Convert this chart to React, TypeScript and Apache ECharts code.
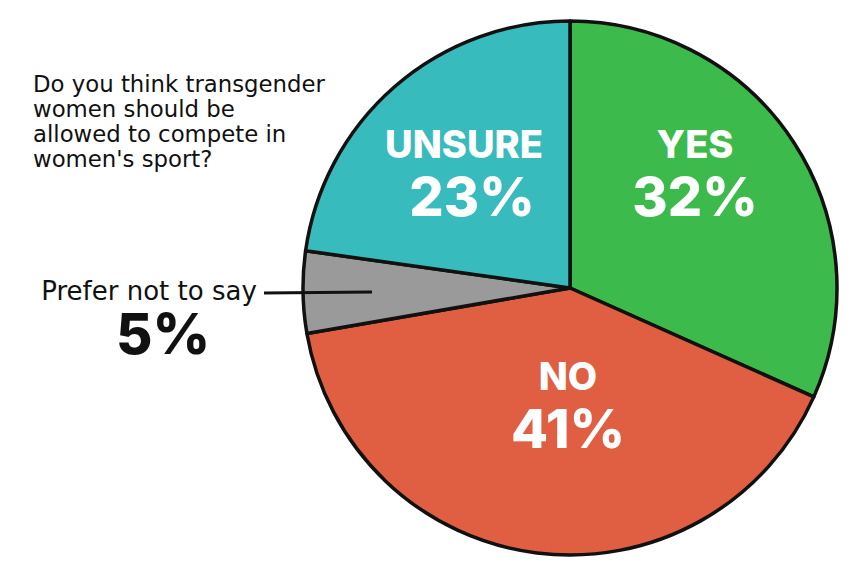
import React, { useEffect, useRef } from "react";
import * as echarts from "echarts";

const categories = ["YES", "NO", "Prefer not to say", "UNSURE"];
const values = [32, 41, 5, 23];
const colors = ["#3cba4b", "#e05f43", "#9a9a9a", "#37bbbd"];
const titleLines = ["Do you think transgender", "women should be", "allowed to compete in", "women's sport?"];

export default function App() {
  const ref = useRef<HTMLDivElement>(null);
  useEffect(() => {
    const chart = echarts.init(ref.current!, null, { renderer: "svg" });
    const font = "Inter, 'Open Sans', sans-serif";
    const font2 = "'DejaVu Sans', sans-serif";
    const labelPos: Record<number, [number, number]> = {
      0: [687, 164],
      1: [560, 396],
      2: [141, 311],
      3: [456, 164],
    };
    chart.setOption({
      animation: false,
      backgroundColor: "#ffffff",
      series: [
        {
          type: "pie",
          center: [562, 280],
          radius: 267,
          startAngle: 90,
          clockwise: true,
          avoidLabelOverlap: false,
          labelLine: { show: false },
          itemStyle: { borderColor: "#111", borderWidth: 3.5, borderJoin: "round" },
          label: {
            show: true,
            position: "inside",
            fontFamily: font,
            align: "center",
            verticalAlign: "middle",
            formatter: (p: any) =>
              p.dataIndex === 2
                ? `{small|${p.name}}\n{big|${p.value}%}`
                : p.dataIndex === 3
                ? `{name|${p.name}}\n{pct2|${p.value}%}`
                : `{name|${p.name}}\n{pct|${p.value}%}`,
            rich: {
              name: { fontFamily: font, fontSize: 38, fontWeight: 800, color: "#fff", lineHeight: 48, align: "center" },
              pct: { fontFamily: font, fontSize: 54, fontWeight: 800, color: "#fff", lineHeight: 56, align: "center" },
              pct2: { fontFamily: font, fontSize: 54, fontWeight: 800, color: "#fff", lineHeight: 56, align: "center", padding: [0, 0, 0, 16] },
              small: { fontFamily: font2, fontSize: 26, fontWeight: "normal", color: "#111", lineHeight: 30, align: "center" },
              big: { fontFamily: font, fontSize: 56, fontWeight: 800, color: "#111", lineHeight: 56, align: "center", padding: [0, 0, 0, 28] },
            },
          },
          labelLayout: (params: any) => {
            const p = labelPos[params.dataIndex];
            return { x: p[0], y: p[1], align: "center", verticalAlign: "middle" };
          },
          data: categories.map((c, i) => ({ name: c, value: values[i], itemStyle: { color: colors[i] } })),
        },
      ],
      graphic: [
        ...titleLines.map((t, i) => ({
          type: "text",
          left: 25,
          top: 64 + i * 25,
          style: { text: t, fontFamily: font2, fontSize: 22.8, fontWeight: "normal", fill: "#111" },
        })),
        {
          type: "line",
          shape: { x1: 256, y1: 285, x2: 364, y2: 284 },
          style: { stroke: "#111", lineWidth: 3 },
          z: 10,
        },
      ],
    });
    return () => chart.dispose();
  }, []);
  return <div ref={ref} style={{ width: 846, height: 559 }} />;
}
